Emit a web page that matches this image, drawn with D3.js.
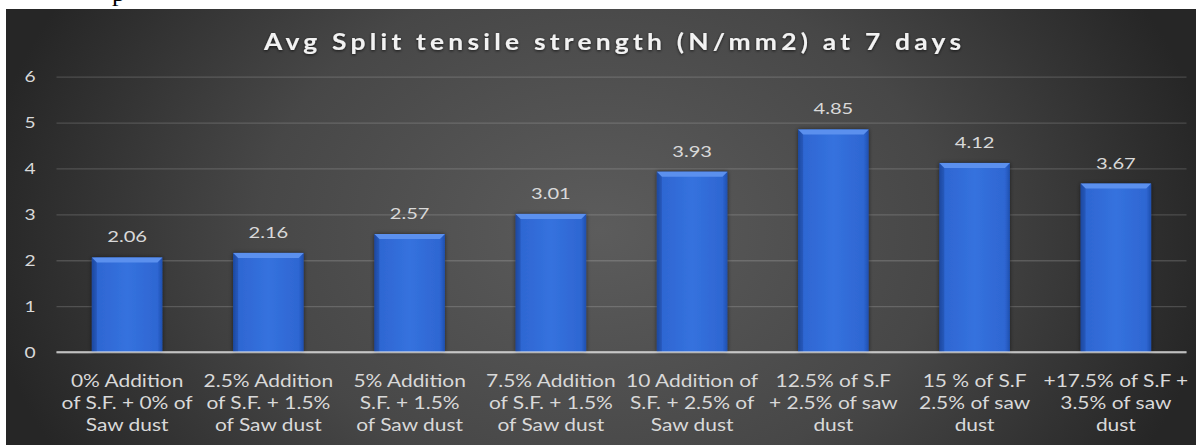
<!DOCTYPE html>
<html>
<head>
<meta charset="utf-8">
<script src="https://cdn.jsdelivr.net/npm/d3@7"></script>
<style>
  html, body { margin: 0; padding: 0; background: #ffffff; }
  svg { display: block; }
</style>
</head>
<body>
<svg id="chart" width="1196" height="445"></svg>
<script>
// ---- data ----
const title = "Avg Split tensile strength (N/mm2) at 7 days";
const categories = [
  ["0% Addition", "of S.F. + 0% of", "Saw dust"],
  ["2.5% Addition", "of S.F. + 1.5%", "of Saw dust"],
  ["5% Addition", "S.F. + 1.5%", "of Saw dust"],
  ["7.5% Addition", "of S.F. + 1.5%", "of Saw dust"],
  ["10 Addition of", "S.F. + 2.5% of", "Saw dust"],
  ["12.5% of S.F", "+ 2.5% of saw", "dust"],
  ["15 % of S.F", "2.5% of saw", "dust"],
  ["+17.5% of S.F +", "3.5% of saw", "dust"]
];
const values = [2.06, 2.16, 2.57, 3.01, 3.93, 4.85, 4.12, 3.67];
const valueLabels = ["2.06", "2.16", "2.57", "3.01", "3.93", "4.85", "4.12", "3.67"];
const yTicks = [0, 1, 2, 3, 4, 5, 6];

// ---- layout ----
const W = 1196, H = 445;
const panel = { x: 6, y: 9, w: W - 6, h: H - 9 };
const plot = { left: 56.5, right: 1186.5, top: 76.7, bottom: 352 };
const FONT = "Lato, Carlito, sans-serif";
const STRETCH = 1.27;

const svg = d3.select("#chart");
const defs = svg.append("defs");

const bg = defs.append("radialGradient").attr("id", "bgGrad")
  .attr("gradientUnits", "userSpaceOnUse")
  .attr("cx", 600).attr("cy", 230).attr("r", 620)
  .attr("gradientTransform", "translate(600,230) scale(1,0.75) translate(-600,-230)");
bg.append("stop").attr("offset", "0%").attr("stop-color", "#5c5c5c");
bg.append("stop").attr("offset", "55%").attr("stop-color", "#474747");
bg.append("stop").attr("offset", "100%").attr("stop-color", "#262626");

const barGrad = defs.append("linearGradient").attr("id", "barGrad")
  .attr("x1", "0").attr("x2", "1").attr("y1", "0").attr("y2", "0");
barGrad.append("stop").attr("offset", "0%").attr("stop-color", "#1f4fae");
barGrad.append("stop").attr("offset", "7%").attr("stop-color", "#2e66d2");
barGrad.append("stop").attr("offset", "50%").attr("stop-color", "#3572de");
barGrad.append("stop").attr("offset", "93%").attr("stop-color", "#2e66d2");
barGrad.append("stop").attr("offset", "100%").attr("stop-color", "#1f4fae");

const shadow = defs.append("filter").attr("id", "barShadow")
  .attr("x", "-20%").attr("y", "-10%").attr("width", "140%").attr("height", "120%");
shadow.append("feDropShadow").attr("dx", 0).attr("dy", 0).attr("stdDeviation", 2)
  .attr("flood-color", "#000").attr("flood-opacity", 0.55);

const titleShadow = defs.append("filter").attr("id", "titleShadow")
  .attr("x", "-5%").attr("y", "-30%").attr("width", "110%").attr("height", "160%");
titleShadow.append("feDropShadow").attr("dx", 0).attr("dy", 1).attr("stdDeviation", 1.5)
  .attr("flood-color", "#000").attr("flood-opacity", 0.7);

// stray glyph from the page above the chart
svg.append("text").attr("x", 112).attr("y", 1)
  .attr("font-family", "Liberation Serif").attr("font-size", 26)
  .attr("fill", "#000").text("p");

// panel background
svg.append("rect").attr("x", panel.x).attr("y", panel.y)
  .attr("width", panel.w).attr("height", panel.h).attr("fill", "url(#bgGrad)");

// ---- scales ----
const x = d3.scaleBand().domain(d3.range(categories.length))
  .range([plot.left, plot.right]).paddingInner(0.5).paddingOuter(0.25);
const y = d3.scaleLinear().domain([0, 6]).range([plot.bottom, plot.top]);

// gridlines + y tick labels
const yAxis = d3.axisLeft(y).tickValues(yTicks).tickSize(-(plot.right - plot.left)).tickPadding(18)
  .tickFormat(d3.format("d"));
const gy = svg.append("g").attr("transform", `translate(${plot.left},0)`).call(yAxis);
gy.select(".domain").remove();
gy.selectAll(".tick line").attr("stroke", "rgba(255,255,255,0.16)").attr("stroke-width", 1.3);
gy.selectAll(".tick text").attr("fill", "#d9d9d9").attr("font-family", FONT)
  .attr("font-size", 16).attr("text-anchor", "middle").attr("x", 0)
  .attr("transform", `translate(${30 - plot.left},0) scale(1.2,1)`);
gy.selectAll(".tick").filter(d => d === 0).select("line")
  .attr("stroke", "rgba(230,230,230,0.55)").attr("stroke-width", 2);

// bars
const bars = svg.append("g").selectAll("g.bar").data(values).join("g").attr("class", "bar");
bars.append("rect")
  .attr("x", (d, i) => x(i)).attr("width", x.bandwidth())
  .attr("y", d => y(d)).attr("height", d => y(0) - y(d))
  .attr("fill", "url(#barGrad)").attr("filter", "url(#barShadow)");
const bev = 5;
bars.append("path")
  .attr("d", (d, i) => {
    const x0 = x(i), x1 = x(i) + x.bandwidth(), t = y(d);
    return `M${x0},${t} L${x1},${t} L${x1 - bev},${t + bev} L${x0 + bev},${t + bev} Z`;
  })
  .attr("fill", "#5b90ee");
bars.append("path")
  .attr("d", (d, i) => {
    const x0 = x(i), t = y(d), b = y(0);
    return `M${x0},${t} L${x0 + bev},${t + bev} L${x0 + bev},${b} L${x0},${b} Z`;
  })
  .attr("fill", "rgba(20,50,120,0.25)");

// zero line on top of bars
svg.append("line").attr("x1", plot.left).attr("x2", plot.right)
  .attr("y1", y(0)).attr("y2", y(0))
  .attr("stroke", "rgba(230,230,230,0.55)").attr("stroke-width", 2);

// value labels
svg.append("g").selectAll("text").data(values).join("text")
  .attr("transform", (d, i) => `translate(${x(i) + x.bandwidth() / 2},${y(d) - 15}) scale(1.3,1)`)
  .attr("text-anchor", "middle").attr("fill", "#d9d9d9")
  .attr("font-family", FONT).attr("font-size", 15.5)
  .text((d, i) => valueLabels[i]);

// category labels
const cat = svg.append("g").selectAll("text").data(categories).join("text")
  .attr("text-anchor", "middle").attr("fill", "#d9d9d9")
  .attr("font-family", FONT).attr("font-size", 16.5)
  .attr("transform", (d, i) => `translate(${x(i) + x.bandwidth() / 2},387) scale(${STRETCH},1)`);
cat.selectAll("tspan").data(d => d).join("tspan")
  .attr("x", 0).attr("y", (d, j) => j * 22).text(d => d);

// title
svg.append("text")
  .attr("transform", "translate(612.5,50) scale(1.15,1)")
  .attr("text-anchor", "middle").attr("fill", "#f2f2f2")
  .attr("font-family", FONT).attr("font-weight", "bold")
  .attr("font-size", 23).attr("textLength", 697 / 1.15).attr("lengthAdjust", "spacing")
  .attr("filter", "url(#titleShadow)")
  .text(title);
</script>
</body>
</html>
